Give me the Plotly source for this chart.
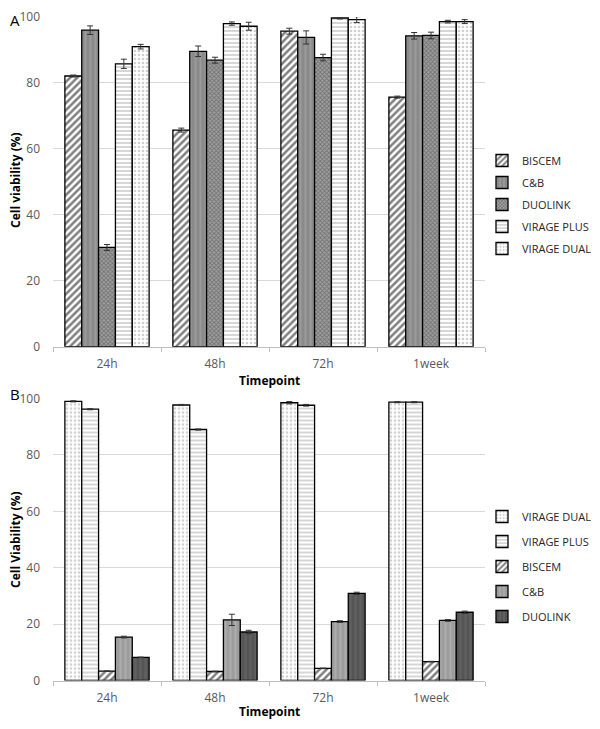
import plotly.graph_objects as go

timepoints = ["24h", "48h", "72h", "1week"]

# panel A
a_biscem = [82.1, 65.7, 95.7, 75.7]
a_biscem_err = [0.3, 0.6, 0.9, 0.3]
a_cb = [96.0, 89.6, 93.8, 94.3]
a_cb_err = [1.3, 1.6, 2.0, 1.0]
a_duolink = [30.1, 86.9, 87.7, 94.4]
a_duolink_err = [0.9, 0.9, 1.0, 1.0]
a_vplus = [85.8, 98.0, 99.7, 98.6]
a_vplus_err = [1.4, 0.5, 0.3, 0.4]
a_vdual = [91.0, 97.2, 99.2, 98.6]
a_vdual_err = [0.7, 1.2, 0.9, 0.6]

# panel B
b_vdual = [99.0, 97.7, 98.5, 98.7]
b_vdual_err = [0.2, 0.2, 0.4, 0.2]
b_vplus = [96.2, 89.0, 97.6, 98.7]
b_vplus_err = [0.2, 0.2, 0.3, 0.2]
b_biscem = [3.3, 3.2, 4.3, 6.7]
b_biscem_err = [0.1, 0.1, 0.1, 0.1]
b_cb = [15.4, 21.5, 20.9, 21.3]
b_cb_err = [0.3, 2.0, 0.3, 0.3]
b_duolink = [8.2, 17.2, 30.9, 24.2]
b_duolink_err = [0.1, 0.6, 0.4, 0.4]

styles = {
    "BISCEM": dict(shape="/", bgcolor="white", fgcolor="black", size=5, solidity=0.5),
    "C&B": dict(shape="|", bgcolor="#8a8a8a", fgcolor="#ababab", size=5, solidity=0.4),
    "DUOLINK": dict(shape="x", bgcolor="#a0a0a0", fgcolor="#454545", size=3, solidity=0.5),
    "VIRAGE PLUS": dict(shape="-", bgcolor="white", fgcolor="#8a8a8a", size=4, solidity=0.35),
    "VIRAGE DUAL": dict(shape=".", bgcolor="white", fgcolor="#a0a0a0", size=4, solidity=0.35),
    "C&B B": dict(shape="|", bgcolor="#9c9c9c", fgcolor="#bdbdbd", size=5, solidity=0.4),
    "DUOLINK B": dict(shape="|", bgcolor="#555555", fgcolor="#6e6e6e", size=5, solidity=0.4),
}

fig = go.Figure()


def add_bar(name, vals, errs, style, xa, ya, leg):
    fig.add_trace(go.Bar(
        x=timepoints, y=vals, name=name, xaxis=xa, yaxis=ya,
        legend=leg, legendgroup=leg + name,
        marker=dict(color=style["bgcolor"], pattern=style,
                    line=dict(color="black", width=1.3)),
        error_y=dict(type="data", array=errs, color="#333333", thickness=1, width=3),
    ))


add_bar("BISCEM", a_biscem, a_biscem_err, styles["BISCEM"], "x", "y", "legend")
add_bar("C&B", a_cb, a_cb_err, styles["C&B"], "x", "y", "legend")
add_bar("DUOLINK", a_duolink, a_duolink_err, styles["DUOLINK"], "x", "y", "legend")
add_bar("VIRAGE PLUS", a_vplus, a_vplus_err, styles["VIRAGE PLUS"], "x", "y", "legend")
add_bar("VIRAGE DUAL", a_vdual, a_vdual_err, styles["VIRAGE DUAL"], "x", "y", "legend")

add_bar("VIRAGE DUAL", b_vdual, b_vdual_err, styles["VIRAGE DUAL"], "x2", "y2", "legend2")
add_bar("VIRAGE PLUS", b_vplus, b_vplus_err, styles["VIRAGE PLUS"], "x2", "y2", "legend2")
add_bar("BISCEM", b_biscem, b_biscem_err, styles["BISCEM"], "x2", "y2", "legend2")
add_bar("C&B", b_cb, b_cb_err, styles["C&B B"], "x2", "y2", "legend2")
add_bar("DUOLINK", b_duolink, b_duolink_err, styles["DUOLINK B"], "x2", "y2", "legend2")

# the page adds an 8px body margin; keep the figure inside the window
FW, FH, L, R = 584, 713, 45, 107
W = FW - L - R


def px(x):
    return (x - 8 - L) / W


def py(y):
    return 1 - (y - 8) / FH


tickfont = dict(family="Open Sans", size=12, color="#595959")
xcommon = dict(showgrid=False, showline=True, linecolor="#bfbfbf", linewidth=1,
               ticks="outside", tickson="boundaries", ticklen=4, tickcolor="#bfbfbf",
               tickfont=tickfont, ticklabelstandoff=6, domain=[0, 1])
ycommon = dict(range=[0, 100], dtick=20, showgrid=True, gridcolor="#d9d9d9",
               zeroline=False, showline=False, tickfont=tickfont, ticklabelstandoff=12,
               ticklabeloverflow="allow")

legfont = dict(family="Open Sans", size=11, color="#262626")
bold = dict(family="Open Sans", size=12, color="black")

fig.update_layout(
    width=FW, height=FH,
    margin=dict(l=L, r=R, t=0, b=0, autoexpand=False),
    plot_bgcolor="white", paper_bgcolor="white",
    barmode="group", bargap=0.22, bargroupgap=0,
    xaxis=dict(anchor="y", **xcommon),
    yaxis=dict(anchor="x", domain=[py(346.7), py(17)], **ycommon),
    xaxis2=dict(anchor="y2", **xcommon),
    yaxis2=dict(anchor="x2", domain=[py(680.5), py(398.5)], **ycommon),
    legend=dict(x=px(482), y=py(146), xanchor="left", yanchor="top", font=legfont,
                traceorder="grouped", tracegroupgap=3, itemwidth=30, bgcolor="rgba(0,0,0,0)"),
    legend2=dict(x=px(482), y=py(502), xanchor="left", yanchor="top", font=legfont,
                 traceorder="grouped", tracegroupgap=6, itemwidth=30, bgcolor="rgba(0,0,0,0)"),
    annotations=[
        dict(text="<b>Timepoint</b>", x=0.5, y=py(380), xref="paper", yref="paper",
             yanchor="middle", showarrow=False, font=bold),
        dict(text="<b>Timepoint</b>", x=0.5, y=py(711), xref="paper", yref="paper",
             yanchor="middle", showarrow=False, font=bold),
        dict(text="<b>Cell viability (%)</b>", x=px(15), y=py(180), xref="paper",
             yref="paper", textangle=-90, xanchor="center", yanchor="middle",
             showarrow=False, font=bold),
        dict(text="<b>Cell Viability (%)</b>", x=px(15), y=py(540), xref="paper",
             yref="paper", textangle=-90, xanchor="center", yanchor="middle",
             showarrow=False, font=bold),
        dict(text="A", x=px(8), y=py(20), xref="paper", yref="paper",
             xanchor="left", yanchor="middle", showarrow=False,
             font=dict(family="Open Sans", size=15, color="black")),
        dict(text="B", x=px(8), y=py(394), xref="paper", yref="paper",
             xanchor="left", yanchor="middle", showarrow=False,
             font=dict(family="Open Sans", size=15, color="black")),
    ],
)

fig.write_html("out.html")
